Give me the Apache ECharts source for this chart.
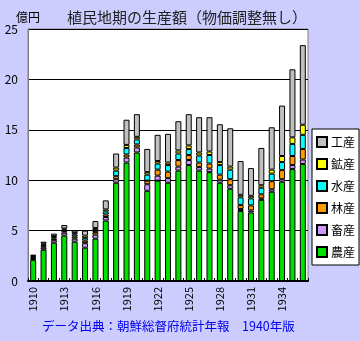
<!DOCTYPE html>
<html>
<head>
<meta charset="utf-8">
<script src="https://cdn.jsdelivr.net/npm/echarts@6/dist/echarts.min.js"></script>
<style>
html,body{margin:0;padding:0;background:#CCCCFF;}
#chart{width:360px;height:341px;}
</style>
</head>
<body>
<div id="chart"></div>
<script>
// 植民地期朝鮮の生産額（億円、物価調整無し）
const years = ['1910','1911','1912','1913','1914','1915','1916','1917','1918','1919',
  '1920','1921','1922','1923','1924','1925','1926','1927','1928','1929',
  '1930','1931','1932','1933','1934','1935','1936'];

const agriculture = [2.1,3.1,3.8,4.5,3.9,3.3,4.2,6.0,9.75,11.75,
  12.75,8.95,9.95,9.75,10.95,11.5,10.95,10.8,9.75,9.15,
  6.95,6.8,8.05,8.85,9.85,11.1,11.6];
const livestock = [0.1,0.2,0.25,0.3,0.3,0.45,0.4,0.35,0.35,0.5,
  0.5,0.65,0.5,0.45,0.4,0.5,0.35,0.35,0.3,0.35,
  0.2,0.2,0.15,0.25,0.25,0.4,0.45];
const forestry = [0.1,0.15,0.15,0.15,0.2,0.25,0.25,0.25,0.3,0.3,
  0.3,0.35,0.6,0.65,0.65,0.5,0.45,0.5,0.5,0.6,
  0.4,0.5,0.4,0.8,0.9,0.9,1.05];
const fishery = [0.1,0.15,0.15,0.15,0.2,0.25,0.2,0.3,0.55,0.65,
  0.5,0.6,0.6,0.65,0.65,0.6,0.7,0.85,0.95,0.95,
  0.75,0.7,0.65,0.75,0.8,1.2,1.4];
const mining = [0.1,0.1,0.1,0.1,0.15,0.25,0.2,0.2,0.3,0.3,
  0.25,0.25,0.25,0.25,0.3,0.35,0.3,0.35,0.3,0.3,
  0.25,0.25,0.25,0.4,0.6,0.65,1.0];
const industry = [0.1,0.2,0.25,0.35,0.25,0.5,0.7,0.9,1.4,2.5,
  2.25,2.3,2.6,2.85,2.9,3.1,3.5,3.4,3.75,3.8,
  3.35,2.75,3.7,4.2,5.0,6.75,7.9];

const seriesDefs = [
  {name:'農産', data:agriculture, color:'#00E000'},
  {name:'畜産', data:livestock,   color:'#CC99FF'},
  {name:'林産', data:forestry,    color:'#FF9900'},
  {name:'水産', data:fishery,     color:'#00FFFF'},
  {name:'鉱産', data:mining,      color:'#FFFF00'},
  {name:'工産', data:industry,    color:'#C0C0C0'}
];

const yTicks = [0,5,10,15,20,25];
const font = '"Noto Sans CJK JP", sans-serif';

const chart = echarts.init(document.getElementById('chart'), null, {renderer:'canvas'});
chart.setOption({
  backgroundColor:'#CCCCFF',
  animation:false,
  textStyle:{fontFamily:font},
  title:{
    text:'植民地期の生産額（物価調整無し）',
    left:182, top:5, textAlign:'center',
    textStyle:{fontSize:15, fontWeight:'normal', color:'#222', fontFamily:font}
  },
  graphic:[{
    type:'text', left:42, top:320,
    style:{text:'データ出典：朝鮮総督府統計年報　1940年版', fill:'#0000EE', font:'12.5px "Noto Sans CJK JP", sans-serif'}
  }],
  legend:{
    orient:'vertical',
    left:312, top:129,
    data:seriesDefs.map(s=>s.name).reverse(),
    backgroundColor:'#fff',
    borderColor:'#000', borderWidth:1,
    padding:[7,4,7,4],
    itemWidth:10, itemHeight:10, itemGap:10,
    icon:'rect',
    textStyle:{fontSize:12, color:'#000', fontFamily:font, padding:[0,0,0,-1]}
  },
  grid:{
    left:28, right:52, top:29, bottom:60,
    show:true, backgroundColor:'#fff', borderColor:'#808080', borderWidth:1
  },
  xAxis:{
    type:'category', data:years,
    axisLine:{lineStyle:{color:'#000', width:2}},
    axisTick:{show:true, inside:true, length:3, interval:0, lineStyle:{color:'#000'}},
    axisLabel:{interval:2, rotate:90, fontSize:11, color:'#000', margin:6, fontFamily:font}
  },
  yAxis:{
    type:'value', min:yTicks[0], max:yTicks[yTicks.length-1], interval:5,
    name:'億円', nameLocation:'end', nameGap:6,
    nameTextStyle:{fontSize:12, color:'#000', align:'center', fontFamily:font},
    axisLine:{show:true, lineStyle:{color:'#808080'}},
    axisTick:{show:false},
    axisLabel:{fontSize:12, color:'#000', margin:10, fontFamily:font},
    splitLine:{lineStyle:{color:'#000', width:1}}
  },
  series:seriesDefs.map(s=>({
    name:s.name, type:'bar', stack:'total', data:s.data, barWidth:6,
    itemStyle:{color:s.color, borderColor:'#000', borderWidth:1}
  }))
});
</script>
</body>
</html>
